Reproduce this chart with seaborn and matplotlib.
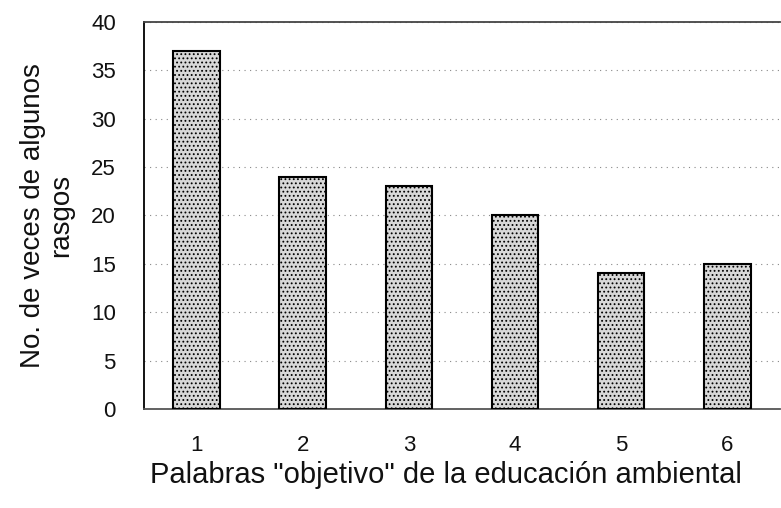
import matplotlib
matplotlib.use("Agg")
import matplotlib.pyplot as plt
import seaborn as sns
import pandas as pd

categories = ["1", "2", "3", "4", "5", "6"]
counts = [37, 24, 23, 20, 14, 15]

df = pd.DataFrame({"palabra": categories, "veces": counts})

sns.set_theme(style="white")
plt.rcParams['font.family'] = ['Liberation Sans', 'DejaVu Sans']
plt.rcParams['hatch.color'] = '#555555'
plt.rcParams['hatch.linewidth'] = 0.8

fig = plt.figure(figsize=(7.81, 5.08), dpi=100)
ax = fig.add_axes([0.184, 0.195, 0.815, 0.762])

sns.barplot(data=df, x="palabra", y="veces", color="#d8d8d8", width=0.44,
            edgecolor="black", linewidth=1.5, hatch="....", ax=ax, zorder=3)

ax.set_ylim(0, 40)
ax.set_yticks(range(0, 41, 5))
ax.set_xlim(-0.5, 5.5)
ax.yaxis.grid(True, linestyle=(0, (1, 4)), color="#888888", linewidth=0.8, zorder=0)

ax.spines["right"].set_visible(False)
ax.spines["left"].set_color("black")
ax.spines["left"].set_linewidth(1.3)
ax.spines["top"].set_color("#444444")
ax.spines["top"].set_linewidth(1.3)
ax.spines["bottom"].set_color("#555555")
ax.spines["bottom"].set_linewidth(1.3)

ax.tick_params(axis="both", labelsize=16, colors="#111111", length=0)
ax.tick_params(axis="y", pad=20)
ax.tick_params(axis="x", pad=19)
ax.set_xlabel('Palabras "objetivo" de la educación ambiental', fontsize=21,
              color="#111111")
ax.xaxis.set_label_coords(0.475, -0.135)
ax.set_ylabel("No. de veces de algunos\nrasgos", fontsize=20, labelpad=12,
              color="#111111", linespacing=1.1)

fig.savefig("out.png", dpi=100)
